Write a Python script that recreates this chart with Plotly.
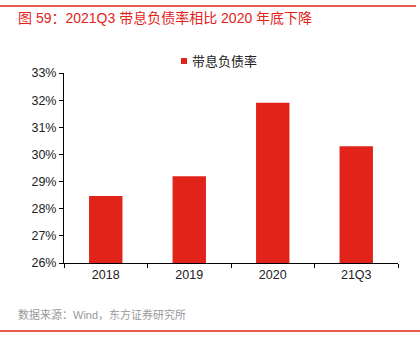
import plotly.graph_objects as go

categories = ["2018", "2019", "2020", "21Q3"]
values = [28.47, 29.2, 31.9, 30.3]
series_name = "带息负债率"
y_ticks = [26, 27, 28, 29, 30, 31, 32, 33]
y_tick_labels = [f"{v}%" for v in y_ticks]

FONT = "Liberation Sans, Noto Sans CJK SC"
RED = "#e2231a"

fig = go.Figure()
fig.add_trace(go.Bar(x=categories, y=values, name=series_name, showlegend=False,
                     marker=dict(color=RED, line=dict(width=0)), width=0.4))

L, R, T, B = 64, 22, 73, 86
W, H = 420, 349
pw, ph = W - L - R, H - T - B

def px_x(x):
    return (x - L) / pw

def px_y(y):
    return (H - B - y) / ph

fig.update_layout(
    width=W, height=H,
    margin=dict(l=L, r=R, t=T, b=B),
    paper_bgcolor="white", plot_bgcolor="white",
    font=dict(family=FONT, size=12, color="#222222"),
    showlegend=False,
    xaxis=dict(type="category", range=[-0.5, 3.5], showline=True, linecolor="#000000",
               linewidth=1, ticks="outside", tickson="boundaries", ticklen=4,
               tickcolor="#000000", showgrid=False, tickfont=dict(size=12.5, color="#222222")),
    yaxis=dict(range=[26, 33], tickvals=y_ticks, ticktext=y_tick_labels, showline=True,
               linecolor="#000000", linewidth=1, ticks="outside", ticklen=4,
               tickcolor="#000000", showgrid=False, zeroline=False,
               tickfont=dict(size=12.5, color="#222222")),
    shapes=[
        dict(type="line", xref="paper", yref="paper", x0=px_x(0), x1=px_x(416),
             y0=px_y(6), y1=px_y(6), line=dict(color=RED, width=1.5)),
        dict(type="line", xref="paper", yref="paper", x0=px_x(0), x1=px_x(420),
             y0=px_y(331), y1=px_y(331), line=dict(color=RED, width=1.5)),
        dict(type="rect", xref="paper", yref="paper", x0=px_x(181), x1=px_x(187),
             y0=px_y(58), y1=px_y(64), fillcolor=RED, line=dict(width=0)),
    ],
    annotations=[
        dict(text="图 59：2021Q3 带息负债率相比 2020 年底下降", xref="paper", yref="paper",
             x=px_x(16), y=px_y(18), xanchor="left", yanchor="middle", showarrow=False,
             font=dict(size=14, color=RED, family=FONT)),
        dict(text=series_name, xref="paper", yref="paper",
             x=px_x(190), y=px_y(61), xanchor="left", yanchor="middle", showarrow=False,
             font=dict(size=13, color="#222222", family=FONT)),
        dict(text="数据来源：Wind，东方证券研究所", xref="paper", yref="paper",
             x=px_x(16), y=px_y(314), xanchor="left", yanchor="middle", showarrow=False,
             font=dict(size=11, color="#999999", family=FONT)),
    ],
)

fig.write_html("out.html")
